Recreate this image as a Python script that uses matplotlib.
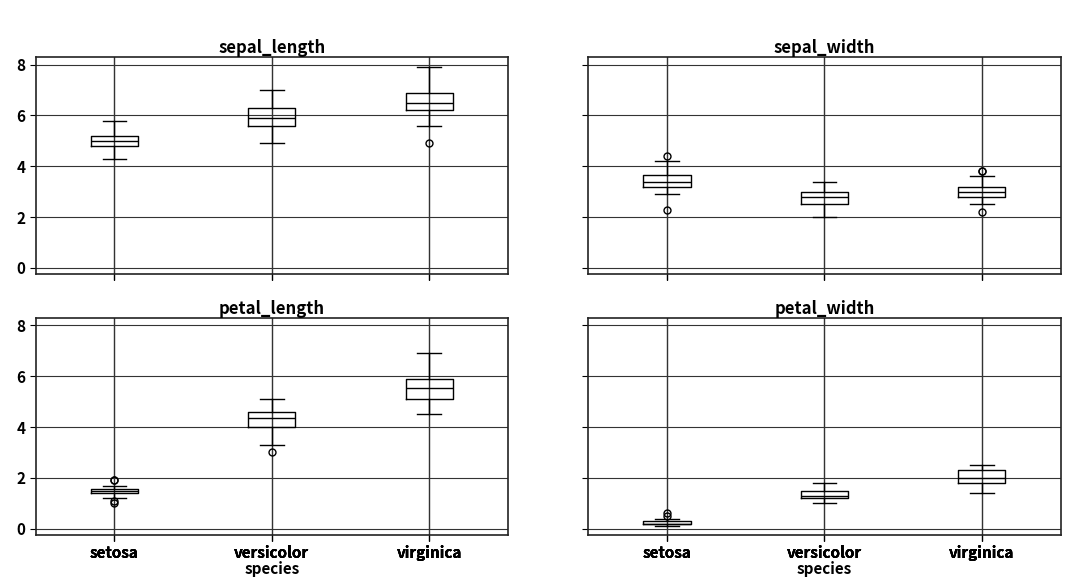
import matplotlib
matplotlib.use("Agg")
import matplotlib.pyplot as plt

plt.rcParams['font.family'] = ['Noto Sans CJK SC', 'DejaVu Sans']

species = ["setosa", "versicolor", "virginica"]
features = ["sepal_length", "sepal_width", "petal_length", "petal_width"]

# per feature: [q1, median, q3, whisker_low, whisker_high] for each species
sepal_length_stats = [[4.8, 5.0, 5.2, 4.3, 5.8], [5.6, 5.9, 6.3, 4.9, 7.0], [6.225, 6.5, 6.9, 5.6, 7.9]]
sepal_width_stats = [[3.2, 3.4, 3.675, 2.9, 4.2], [2.525, 2.8, 3.0, 2.0, 3.4], [2.8, 3.0, 3.175, 2.5, 3.6]]
petal_length_stats = [[1.4, 1.5, 1.575, 1.2, 1.7], [4.0, 4.35, 4.6, 3.3, 5.1], [5.1, 5.55, 5.875, 4.5, 6.9]]
petal_width_stats = [[0.2, 0.2, 0.3, 0.1, 0.4], [1.2, 1.3, 1.5, 1.0, 1.8], [1.8, 2.0, 2.3, 1.4, 2.5]]

sepal_length_fliers = [[], [], [4.9]]
sepal_width_fliers = [[4.4, 2.3], [], [3.8, 3.8, 2.2]]
petal_length_fliers = [[1.0, 1.1, 1.9, 1.9], [3.0], []]
petal_width_fliers = [[0.5, 0.6], [], []]

all_stats = [sepal_length_stats, sepal_width_stats, petal_length_stats, petal_width_stats]
all_fliers = [sepal_length_fliers, sepal_width_fliers, petal_length_fliers, petal_width_fliers]

fig, axes = plt.subplots(2, 2, figsize=(10.8, 5.88), dpi=100, sharex=True, sharey=True)
fig.subplots_adjust(left=0.033, right=0.982, top=0.903, bottom=0.09, wspace=0.17, hspace=0.2)

for ax, name, stats, fliers in zip(axes.flat, features, all_stats, all_fliers):
    bxp_stats = []
    for sp, s, f in zip(species, stats, fliers):
        bxp_stats.append(dict(label=sp, q1=s[0], med=s[1], q3=s[2],
                              whislo=s[3], whishi=s[4], fliers=f))
    ax.bxp(bxp_stats, positions=[1, 2, 3], widths=0.3,
           boxprops=dict(color='black', linewidth=1.0),
           medianprops=dict(color='black', linewidth=1.0),
           whiskerprops=dict(color='black', linewidth=1.0),
           capprops=dict(color='black', linewidth=1.0),
           flierprops=dict(marker='o', markerfacecolor='none',
                           markeredgecolor='black', markersize=5))
    ax.set_title(name, fontsize=12, fontweight='bold', pad=3)
    ax.grid(True, color='#333333', linewidth=0.8)
    ax.set_axisbelow(True)
    for sp_ in ax.spines.values():
        sp_.set_color('#222222')
        sp_.set_linewidth(1.2)
    ax.tick_params(axis='both', labelsize=11, colors='black', length=4)

for ax in axes[1]:
    ax.set_xlabel("species", fontsize=11, fontweight='bold', labelpad=0)
    for lbl in ax.get_xticklabels():
        lbl.set_fontweight('bold')
for ax in axes[:, 0]:
    for lbl in ax.get_yticklabels():
        lbl.set_fontweight('bold')

axes[0, 0].set_yticks([0, 2, 4, 6, 8])
axes[0, 0].set_ylim(-0.25, 8.3)
axes[0, 0].set_xlim(0.5, 3.5)

fig.savefig("out.png", dpi=100, facecolor='white')
